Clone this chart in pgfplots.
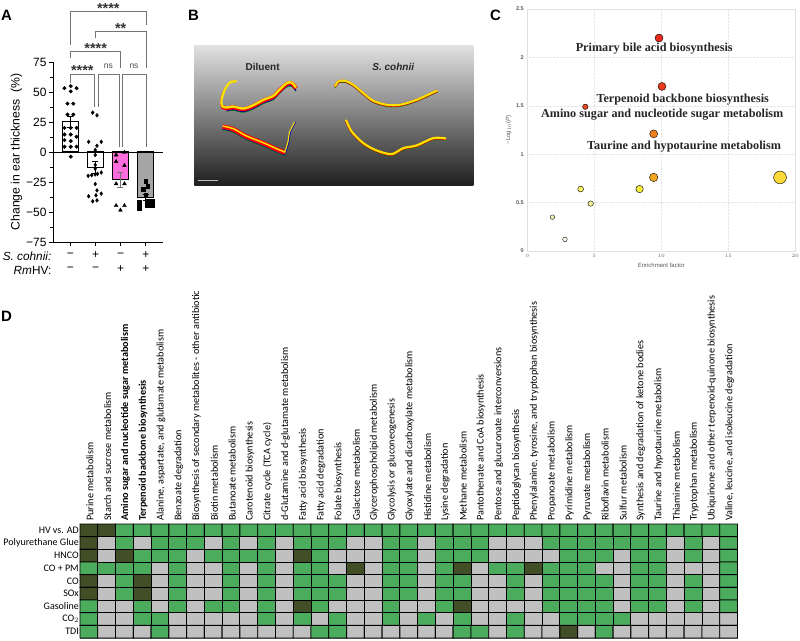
\documentclass[border=0pt]{standalone}
\usepackage{fontspec}
\usepackage{pgfplots}
\usepackage{pgfplotstable}
\pgfplotsset{compat=1.18}
\setmainfont{Liberation Sans}
\newfontfamily\serifb{Liberation Serif}
\newfontfamily\calib{Carlito}
\newcommand{\fs}[1]{\fontsize{#1}{#1}\selectfont}

\definecolor{brk}{RGB}{115,115,115}
\definecolor{yel}{RGB}{250,225,0}

% panel A points: offset x, value
\pgfplotstableread{
x y
-.22 53.2
.03 54.9
.26 53.2
.03 50.5
-.1 40.3
.13 40.3
-.1 31.2
.13 31.2
-.22 20.1
.03 20.1
.26 20.1
-.22 14.6
.03 14.6
.26 12.7
-.22 9.9
.03 9.1
-.22 4.4
.03 4.4
.26 4.4
.03 -3.9
}\ptsA
\pgfplotstableread{
x y
.9 32.8
1.07 30.6
.74 8.5
1.24 8.5
1.07 5.2
1 1.7
1 -2.5
1 -10.8
1 -14
.72 -19.9
.86 -19.3
1 -18.7
1.09 -18.2
1.24 -17.1
1 -26.7
1.07 -32
1.24 -34.7
1.03 -36.1
.74 -36.9
1.07 -40.3
.9 -41.1
}\ptsB
\pgfplotstableread{
x y
1.83 -2.5
2.16 -.3
1.83 -8
2.16 -11.3
1.83 -26.5
2.16 -26.5
1.83 -44.7
2.16 -44.7
2 -48.5
}\ptsC
\pgfplotstableread{
x y
3 -24.5
3.09 -28.7
2.91 -30.9
3 -35.6
2.74 -41.9
3.07 -41.1
3.26 -41.1
2.74 -43.8
2.74 -47.1
3.07 -44.7
3.26 -44.7
}\ptsD

% panel B traces, in pixels of the micrograph
\pgfplotstableread{
x y
140 246
120 250
105 270
95 300
96 320
110 325
130 322
160 328
190 318
220 302
250 290
270 270
290 252
305 250
318 265
}\curveA
\pgfplotstableread{
x y
435 260
445 245
465 243
490 255
520 280
550 303
590 315
630 315
680 300
742 272
}\curveB
\pgfplotstableread{
x y
98 380
130 388
170 410
220 430
260 448
285 458
}\curveC
\pgfplotstableread{
x y
285 458
295 425
300 395
315 367
}\curveCb
\pgfplotstableread{
x y
468 360
485 395
520 430
560 452
605 463
640 445
680 437
730 415
768 416
}\curveD

\begin{document}
\begin{tikzpicture}
\useasboundingbox (0,0) rectangle (800pt,640pt);

% ---------- A
\begin{axis}[
  name=A, at={(53pt,398pt)}, anchor=south west, scale only axis,
  width=110pt, height=180pt,
  xmin=-0.675, xmax=3.69, ymin=-75, ymax=75,
  axis x line=bottom, axis y line=left,
  axis line style={line width=0.9pt,-},
  xtick={0,1,2,3}, xticklabels={}, 
  ytick={-75,-50,-25,0,25,50,75},
  yticklabels={−75,−50,−25,0,25,50,75},
  minor y tick num=1,
  tick align=outside, tick style={black,line width=0.9pt},
  major tick length=4pt, minor tick length=2.5pt,
  yticklabel style={font=\fs{12}, xshift=1pt},
  ylabel={Change in ear thickness\ \ (\%)},
  ylabel style={font=\fs{12.2}, yshift=-3pt},
  clip=false,
]
\addplot[ybar, bar width=16pt, bar shift=0pt, draw=black, line width=1pt, fill=white,
  error bars/.cd, y dir=both, y explicit, error mark options={rotate=90,mark size=3pt,line width=.7pt}, error bar style={line width=.7pt}]
  coordinates {(0,25) +- (0,4.6)};
\addplot[ybar, bar width=16pt, bar shift=0pt, draw=black, line width=1pt, fill=white,
  error bars/.cd, y dir=both, y explicit, error mark options={rotate=90,mark size=3pt,line width=.7pt}, error bar style={line width=.7pt}]
  coordinates {(1,-12.7) +- (0,4.8)};
\addplot[ybar, bar width=16pt, bar shift=0pt, draw=black, line width=1pt, fill={rgb,255:red,255;green,110;blue,220},
  error bars/.cd, y dir=both, y explicit, error mark options={rotate=90,mark size=3pt,line width=.7pt}, error bar style={line width=.7pt,brk}]
  coordinates {(2,-23.2) +- (0,6.5)};
\addplot[ybar, bar width=16pt, bar shift=0pt, draw=black, line width=1pt, fill={rgb,255:red,165;green,165;blue,165},
  error bars/.cd, y dir=both, y explicit, error mark options={rotate=90,mark size=3pt,line width=.7pt}, error bar style={line width=.7pt}]
  coordinates {(3,-37.8) +- (0,2.2)};
\addplot[only marks, mark=*, mark size=1.8pt, black] table {\ptsA};
\addplot[only marks, mark=diamond*, mark size=1.9pt, black] table {\ptsB};
\addplot[only marks, mark=triangle*, mark size=2.2pt, black] table {\ptsC};
\addplot[only marks, mark=square*, mark size=1.8pt, black] table {\ptsD};
\draw[black, line width=0.9pt] (axis cs:-0.675,0) -- (axis cs:3.69,0);
\end{axis}

\begin{scope}[shift={(0pt,640pt)}, x=1pt, y=-1pt]
% significance brackets
\begin{scope}[brk, line width=0.9pt]
\draw (70.3,45) -- (70.3,11.7) -- (146,11.7) -- (146,25);
\draw (95.7,38.3) -- (95.7,31.7) -- (146,31.7) -- (146,68.3);
\draw (70.3,58.3) -- (70.3,51.7) -- (120.7,51.7) -- (120.7,68.3);
\draw (70.3,83.3) -- (70.3,74) -- (94,74) -- (94,106.7);
\draw (98,106.7) -- (98,74) -- (119,74) -- (119,146.7);
\draw (122.7,146.7) -- (122.7,74) -- (146,74) -- (146,146.7);
\end{scope}
\foreach \xx/\yy/\tt in {108.3/8.5/****, 120.7/28.5/**, 95.7/48.5/****, 82.3/70.2/****}
  \node[font=\fs{14.5}\bfseries, text=black!80, inner sep=0] at (\xx,\yy) {\tt};
\node[font=\fs{8.5}, text=black!70, inner sep=0] at (108.3,66) {ns};
\node[font=\fs{8.5}, text=black!70, inner sep=0] at (134,66) {ns};
% factor table under A
\node[font=\fs{11.8}, anchor=east, inner sep=0] at (51.5,256) {\itshape S. cohnii:};
\node[font=\fs{11.8}, anchor=east, inner sep=0] at (51.5,270) {\textit{Rm}HV:};
\foreach \xx/\aa/\bb in {70.3/−/−, 95.7/+/−, 120.7/−/+, 146/+/+} {
  \node[font=\fs{12}, inner sep=0] at (\xx,255.5) {\aa};
  \node[font=\fs{12}, inner sep=0] at (\xx,269.5) {\bb};
}
% panel letters
\node[font=\fs{15}\bfseries, anchor=west, inner sep=0] at (1,15) {A};
\node[font=\fs{15}\bfseries, anchor=west, inner sep=0] at (188,15) {B};
\node[font=\fs{15}\bfseries, anchor=west, inner sep=0] at (490,15) {C};
\node[font=\fs{15}\bfseries, anchor=west, inner sep=0] at (1,316) {D};
\end{scope}

% ---------- B
\begin{axis}[
  at={(194.3pt,454.7pt)}, anchor=south west, scale only axis,
  width=279pt, height=139.3pt,
  xmin=13, xmax=850, ymin=138, ymax=556, y dir=reverse,
  hide axis, clip=false,
]
\fill[top color=black!12, bottom color=black!88] (axis cs:13,138) rectangle (axis cs:850,556);
% upper left trace: red only along the long limb
\addplot[smooth, no marks, line width=1.2pt, green!55!black, yshift=-2.8pt, skip coords between index={0}{5}] table {\curveA};
\addplot[smooth, no marks, line width=1.2pt, blue!70!black, yshift=-2.2pt, skip coords between index={0}{5}] table {\curveA};
\addplot[smooth, no marks, line width=4pt, red, skip coords between index={0}{4}] table {\curveA};
\addplot[smooth, no marks, line width=.6pt, red, xshift=-1.2pt, skip coords between index={5}{15}] table {\curveA};
\addplot[smooth, no marks, line width=2.3pt, yel, yshift=.8pt] table {\curveA};
% upper right trace
\addplot[smooth, no marks, line width=.8pt, green!55!black, yshift=-1.5pt] table {\curveB};
\addplot[smooth, no marks, line width=2.6pt, red!85!black, yshift=-.2pt] table {\curveB};
\addplot[smooth, no marks, line width=2.1pt, yel, yshift=.2pt] table {\curveB};
% lower left trace
\addplot[smooth, no marks, line width=1pt, green!55!black, yshift=-3pt] table {\curveC};
\addplot[smooth, no marks, line width=1pt, blue!70!black, yshift=-2.4pt] table {\curveC};
\addplot[smooth, no marks, line width=4.5pt, red] table {\curveC};
\addplot[smooth, no marks, line width=1.5pt, yel, yshift=.6pt] table {\curveC};
\addplot[smooth, no marks, line width=1pt, blue!70!black, xshift=.6pt] table {\curveCb};
\addplot[smooth, no marks, line width=1.1pt, yel, xshift=-.3pt] table {\curveCb};
% lower right trace
\addplot[smooth, no marks, line width=.8pt, green!55!black, yshift=-1.6pt] table {\curveD};
\addplot[smooth, no marks, line width=2.7pt, red!85!black, yshift=-.2pt] table {\curveD};
\addplot[smooth, no marks, line width=2.2pt, yel, yshift=.2pt] table {\curveD};
\addplot[no marks, white, opacity=.7, line width=.4pt] coordinates {(25,540) (83,540)};
\node[font=\fs{10}\bfseries, text=black!85] at (axis cs:218,200) {Diluent};
\node[font=\fs{10}\bfseries\itshape, text=black!85] at (axis cs:610,200) {S. cohnii};
\end{axis}

% ---------- C
\begin{axis}[
  at={(527.3pt,389pt)}, anchor=south west, scale only axis,
  width=268pt, height=242pt,
  xmin=0, xmax=20, ymin=0, ymax=2.5,
  xtick={0,5,10,15,20}, ytick={0,0.5,1,1.5,2,2.5},
  yticklabels={0,0.5,1,1.5,2,2.5},
  axis line style={black!12, line width=.8pt},
  major tick length=0pt,
  grid=major, grid style={black!10, densely dotted, line width=.5pt},
  ticklabel style={font=\fs{5.5}\bfseries, text=black!65},
  xlabel={Enrichment factor}, ylabel={−Log$_{10}$(\textit{P})},
  label style={font=\fs{6}, text=black!65},
  ylabel style={yshift=-2pt},
  xlabel style={yshift=1pt},
  clip=false,
]
\pgfplotsset{every axis plot/.append style={only marks, mark=*, mark options={draw=black!85, line width=.5pt}}}
\addplot[mark size=4pt, mark options={fill={rgb,255:red,232;green,40;blue,28}}] coordinates {(9.83,2.20)};
\addplot[mark size=4pt, mark options={fill={rgb,255:red,232;green,58;blue,30}}] coordinates {(10.05,1.70)};
\addplot[mark size=2.7pt, mark options={fill={rgb,255:red,232;green,72;blue,30}}] coordinates {(4.33,1.49)};
\addplot[mark size=4pt, mark options={fill={rgb,255:red,238;green,128;blue,32}}] coordinates {(9.43,1.21)};
\addplot[mark size=4.2pt, mark options={fill={rgb,255:red,245;green,166;blue,35}}] coordinates {(9.43,0.76)};
\addplot[mark size=6.4pt, mark options={fill={rgb,255:red,251;green,217;blue,58}}] coordinates {(18.86,0.76)};
\addplot[mark size=3.7pt, mark options={fill={rgb,255:red,248;green,236;blue,58}}] coordinates {(8.38,0.64)};
\addplot[mark size=2.9pt, mark options={fill={rgb,255:red,248;green,240;blue,96}}] coordinates {(3.98,0.64)};
\addplot[mark size=2.7pt, mark options={fill={rgb,255:red,250;green,245;blue,154}}] coordinates {(4.73,0.49)};
\addplot[mark size=2.3pt, mark options={fill={rgb,255:red,250;green,248;blue,192}}] coordinates {(1.87,0.35)};
\addplot[mark size=2.3pt, mark options={fill={rgb,255:red,255;green,255;blue,240}}] coordinates {(2.81,0.12)};
\foreach \xx/\yy/\tt in {
  9.47/2.09/Primary bile acid biosynthesis,
  11.6/1.56/Terpenoid backbone biosynthesis,
  10.07/1.41/Amino sugar and nucleotide sugar metabolism,
  11.7/1.08/Taurine and hypotaurine metabolism}{
  \edef\tmp{\noexpand\node[font=\noexpand\fs{12.2}\noexpand\serifb\noexpand\bfseries, text=black!85, inner sep=0] at (axis cs:\xx,\yy) {\tt};}
  \tmp
}
\end{axis}

% ---------- D
\begin{axis}[
  at={(80pt,2pt)}, anchor=south west, scale only axis,
  width=657.5pt, height=114pt,
  xmin=-0.5, xmax=36.5, ymin=-0.5, ymax=8.5, y dir=reverse,
  axis on top=false,
  axis line style={black!60, line width=.8pt},
  xtick={0,...,36}, ytick={0,...,8},
  xticklabel pos=top,
  major tick length=0pt,
  xticklabels={Purine metabolism, Starch and sucrose metabolism,
    \bfseries Amino sugar and nucleotide sugar metabolism,
    \bfseries Terpenoid backbone biosynthesis,
    {Alanine, aspartate, and glutamate metabolism}, Benzoate degradation,
    Biosynthesis of secondary metabolites - other antibiotic, Biotin metabolism,
    Butanoate metabolism, Carotenoid biosynthesis, Citrate cycle (TCA cycle),
    \textsc{d}-Glutamine and \textsc{d}-glutamate metabolism, Fatty acid biosynthesis,
    Fatty acid degradation, Folate biosynthesis, Galactose metabolism,
    Glycerophospholipid metabolism, Glycolysis or gluconeogenesis,
    Glyoxylate and dicarboxylate metabolism, Histidine metabolism, Lysine degradation,
    Methane metabolism, Pantothenate and CoA biosynthesis,
    Pentose and glucuronate interconversions, Peptidoglycan biosynthesis,
    {Phenylalanine, tyrosine, and tryptophan biosynthesis}, Propanoate metabolism,
    Pyrimidine metabolism, Pyruvate metabolism, Riboflavin metabolism, Sulfur metabolism,
    Synthesis and degradation of ketone bodies, Taurine and hypotaurine metabolism,
    Thiamine metabolism, Tryptophan metabolism,
    Ubiquinone and other terpenoid-quinone biosynthesis,
    {Valine, leucine, and isoleucine degradation}},
  xticklabel style={font=\fs{10.2}\calib, rotate=90, anchor=west, inner sep=1pt, xshift=2pt, yshift=-1pt},
  yticklabels={HV vs. AD, Polyurethane Glue, HNCO, CO + PM, CO, SOx, Gasoline, CO$_2$, TDI},
  yticklabel style={font=\fs{10}\calib, inner sep=1pt},
  colormap={hm}{rgb255=(192,192,192) rgb255=(76,172,94) rgb255=(66,78,38)},
  point meta min=0, point meta max=2,
  clip=false,
]
\addplot[matrix plot*, draw=black, line width=.9pt, mesh/cols=37, mesh/rows=9, point meta=explicit] coordinates {
(0,0)[2](1,0)[2](2,0)[1](3,0)[1](4,0)[1](5,0)[1](6,0)[1](7,0)[1](8,0)[1](9,0)[1](10,0)[1](11,0)[1](12,0)[1](13,0)[1](14,0)[1](15,0)[1](16,0)[1](17,0)[1](18,0)[1](19,0)[1](20,0)[1](21,0)[1](22,0)[1](23,0)[1](24,0)[1](25,0)[1](26,0)[1](27,0)[1](28,0)[1](29,0)[1](30,0)[1](31,0)[1](32,0)[1](33,0)[1](34,0)[1](35,0)[1](36,0)[1]
(0,1)[2](1,1)[0](2,1)[1](3,1)[0](4,1)[1](5,1)[1](6,1)[1](7,1)[0](8,1)[1](9,1)[0](10,1)[1](11,1)[0](12,1)[1](13,1)[1](14,1)[1](15,1)[0](16,1)[0](17,1)[1](18,1)[1](19,1)[0](20,1)[1](21,1)[1](22,1)[1](23,1)[0](24,1)[0](25,1)[0](26,1)[1](27,1)[1](28,1)[1](29,1)[1](30,1)[1](31,1)[1](32,1)[1](33,1)[0](34,1)[1](35,1)[0](36,1)[1]
(0,2)[2](1,2)[0](2,2)[2](3,2)[1](4,2)[1](5,2)[1](6,2)[0](7,2)[1](8,2)[1](9,2)[1](10,2)[1](11,2)[0](12,2)[2](13,2)[1](14,2)[0](15,2)[0](16,2)[0](17,2)[1](18,2)[1](19,2)[0](20,2)[1](21,2)[1](22,2)[1](23,2)[0](24,2)[0](25,2)[0](26,2)[0](27,2)[1](28,2)[1](29,2)[1](30,2)[0](31,2)[1](32,2)[1](33,2)[0](34,2)[1](35,2)[0](36,2)[1]
(0,3)[1](1,3)[1](2,3)[1](3,3)[1](4,3)[0](5,3)[1](6,3)[0](7,3)[0](8,3)[1](9,3)[0](10,3)[1](11,3)[0](12,3)[1](13,3)[1](14,3)[0](15,3)[2](16,3)[0](17,3)[1](18,3)[1](19,3)[0](20,3)[1](21,3)[2](22,3)[0](23,3)[1](24,3)[1](25,3)[2](26,3)[1](27,3)[1](28,3)[1](29,3)[0](30,3)[0](31,3)[1](32,3)[1](33,3)[0](34,3)[0](35,3)[0](36,3)[1]
(0,4)[2](1,4)[0](2,4)[1](3,4)[2](4,4)[0](5,4)[1](6,4)[0](7,4)[0](8,4)[1](9,4)[0](10,4)[1](11,4)[0](12,4)[1](13,4)[1](14,4)[1](15,4)[0](16,4)[0](17,4)[1](18,4)[1](19,4)[0](20,4)[1](21,4)[1](22,4)[0](23,4)[0](24,4)[1](25,4)[0](26,4)[1](27,4)[1](28,4)[1](29,4)[1](30,4)[0](31,4)[1](32,4)[1](33,4)[0](34,4)[1](35,4)[0](36,4)[1]
(0,5)[2](1,5)[0](2,5)[1](3,5)[2](4,5)[0](5,5)[1](6,5)[0](7,5)[0](8,5)[1](9,5)[0](10,5)[1](11,5)[0](12,5)[1](13,5)[1](14,5)[1](15,5)[0](16,5)[0](17,5)[1](18,5)[1](19,5)[0](20,5)[1](21,5)[1](22,5)[0](23,5)[0](24,5)[1](25,5)[0](26,5)[1](27,5)[1](28,5)[1](29,5)[1](30,5)[0](31,5)[1](32,5)[1](33,5)[0](34,5)[1](35,5)[0](36,5)[1]
(0,6)[1](1,6)[0](2,6)[0](3,6)[1](4,6)[0](5,6)[1](6,6)[0](7,6)[1](8,6)[1](9,6)[0](10,6)[1](11,6)[0](12,6)[2](13,6)[1](14,6)[0](15,6)[0](16,6)[0](17,6)[1](18,6)[0](19,6)[0](20,6)[1](21,6)[2](22,6)[0](23,6)[0](24,6)[0](25,6)[0](26,6)[1](27,6)[1](28,6)[1](29,6)[1](30,6)[0](31,6)[1](32,6)[1](33,6)[0](34,6)[1](35,6)[0](36,6)[1]
(0,7)[1](1,7)[0](2,7)[0](3,7)[1](4,7)[1](5,7)[0](6,7)[0](7,7)[0](8,7)[0](9,7)[0](10,7)[1](11,7)[0](12,7)[1](13,7)[0](14,7)[1](15,7)[0](16,7)[0](17,7)[1](18,7)[0](19,7)[1](20,7)[0](21,7)[1](22,7)[0](23,7)[0](24,7)[1](25,7)[0](26,7)[0](27,7)[1](28,7)[1](29,7)[1](30,7)[1](31,7)[0](32,7)[0](33,7)[0](34,7)[0](35,7)[0](36,7)[0]
(0,8)[1](1,8)[0](2,8)[0](3,8)[0](4,8)[1](5,8)[0](6,8)[0](7,8)[0](8,8)[0](9,8)[0](10,8)[0](11,8)[0](12,8)[0](13,8)[1](14,8)[1](15,8)[0](16,8)[0](17,8)[0](18,8)[0](19,8)[0](20,8)[0](21,8)[1](22,8)[1](23,8)[0](24,8)[1](25,8)[0](26,8)[0](27,8)[2](28,8)[0](29,8)[1](30,8)[0](31,8)[0](32,8)[0](33,8)[0](34,8)[0](35,8)[0](36,8)[0]
};
\end{axis}
\end{tikzpicture}
\end{document}
